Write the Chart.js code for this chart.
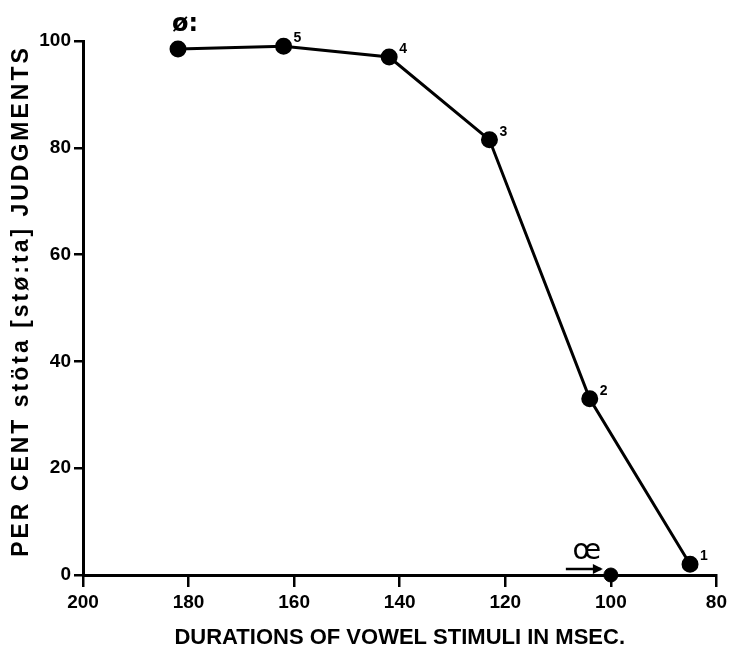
<!DOCTYPE html>
<html>
<head>
<meta charset="utf-8">
<script src="https://cdn.jsdelivr.net/npm/chart.js@4/dist/chart.umd.min.js"></script>
<style>
  body { margin: 0; background: #fff; }
  canvas { display: block; }
</style>
</head>
<body>
<canvas id="chart" width="731" height="665"></canvas>
<script>
// durations (msec) and per cent "stöta" judgments
const durations = [182, 162, 142, 123, 104, 85];
const stotaPercent = [98.5, 99, 97, 81.5, 33, 2];
const stimulusLabels = ['', '5', '4', '3', '2', '1'];
// the short vowel marker on the duration axis
const oeDuration = [100];
const oePercent = [0];
const xTicks = [200, 180, 160, 140, 120, 100, 80];
const yTicks = [0, 20, 40, 60, 80, 100];
const yTitle = 'PER CENT stöta [stø:ta] JUDGMENTS';

const tickFont = { family: 'Liberation Sans', weight: 'bold', size: 19 };

// draws the y title (letter spaced), the stimulus numbers, the ø: and œ marks and the arrow
const notes = {
    id: 'notes',
    afterDatasetsDraw(chart) {
        const ctx = chart.ctx;
        const xs = chart.scales.x, ys = chart.scales.y;
        const area = chart.chartArea;
        ctx.save();
        ctx.fillStyle = '#000';
        ctx.strokeStyle = '#000';

        ctx.save();
        ctx.translate(22, (area.top + area.bottom) / 2 - 7);
        ctx.rotate(-Math.PI / 2);
        ctx.font = 'bold 23px "Liberation Sans"';
        ctx.letterSpacing = '3px';
        ctx.textAlign = 'center';
        ctx.textBaseline = 'middle';
        ctx.fillText(yTitle, 0, 0);
        ctx.restore();

        ctx.font = 'bold 14px "Liberation Sans"';
        ctx.textAlign = 'left';
        ctx.textBaseline = 'middle';
        durations.forEach((d, i) => {
            if (!stimulusLabels[i]) return;
            const px = xs.getPixelForValue(d);
            const py = ys.getPixelForValue(stotaPercent[i]);
            ctx.fillText(stimulusLabels[i], px + 10, py - 8);
        });

        // ø: above the first point
        const fx = xs.getPixelForValue(durations[0]);
        const fy = ys.getPixelForValue(stotaPercent[0]);
        ctx.font = 'bold 24px "DejaVu Sans"';
        ctx.textBaseline = 'alphabetic';
        ctx.fillText('ø:', fx - 6, fy - 18);

        // œ with the arrow pointing at its point
        const ox = xs.getPixelForValue(oeDuration[0]);
        const oy = ys.getPixelForValue(oePercent[0]);
        ctx.font = '28px "DejaVu Sans"';
        ctx.textAlign = 'center';
        ctx.fillText('œ', ox - 24, oy - 16);
        ctx.lineWidth = 2.5;
        ctx.beginPath();
        ctx.moveTo(ox - 45, oy - 6);
        ctx.lineTo(ox - 10, oy - 6);
        ctx.stroke();
        ctx.beginPath();
        ctx.moveTo(ox - 8, oy - 6);
        ctx.lineTo(ox - 18, oy - 11);
        ctx.lineTo(ox - 18, oy - 1);
        ctx.closePath();
        ctx.fill();
        ctx.restore();
    }
};

const ctx = document.getElementById('chart').getContext('2d');
const chart = new Chart(ctx, {
    type: 'scatter',
    data: {
        datasets: [{
            data: durations.map((d, i) => ({ x: d, y: stotaPercent[i] })),
            showLine: true,
            borderColor: '#000',
            borderWidth: 3,
            pointBackgroundColor: '#000',
            pointBorderColor: '#000',
            pointRadius: 7,
            clip: false
        }, {
            data: oeDuration.map((d, i) => ({ x: d, y: oePercent[i] })),
            showLine: false,
            pointBackgroundColor: '#000',
            pointBorderColor: '#000',
            pointRadius: 7,
            clip: false
        }]
    },
    options: {
        responsive: false,
        animation: false,
        devicePixelRatio: 1,
        layout: { padding: { top: 41, right: 14, left: 0, bottom: 0 } },
        plugins: { legend: { display: false }, tooltip: { enabled: false } },
        scales: {
            x: {
                type: 'linear',
                reverse: true,
                min: 80,
                max: 200,
                afterBuildTicks: s => { s.ticks = xTicks.map(v => ({ value: v })); },
                afterFit: s => { s.height = 90; },
                ticks: { color: '#000', font: tickFont, padding: 4 },
                grid: { drawOnChartArea: false, tickLength: 12, color: '#000', lineWidth: 2.5 },
                border: { color: '#000', width: 3 },
                title: {
                    display: true,
                    text: 'DURATIONS OF VOWEL STIMULI IN MSEC.',
                    color: '#000',
                    font: { family: 'Liberation Sans', weight: 'bold', size: 22 },
                    padding: { top: 0, bottom: 14 }
                }
            },
            y: {
                min: 0,
                max: 100,
                afterBuildTicks: s => { s.ticks = yTicks.map(v => ({ value: v })); },
                afterFit: s => { s.width = 83; },
                ticks: { color: '#000', font: tickFont, padding: 3 },
                grid: { drawOnChartArea: false, tickLength: 9, color: '#000', lineWidth: 2.5 },
                border: { color: '#000', width: 3 },
                title: { display: false }
            }
        }
    },
    plugins: [notes]
});
</script>
</body>
</html>
